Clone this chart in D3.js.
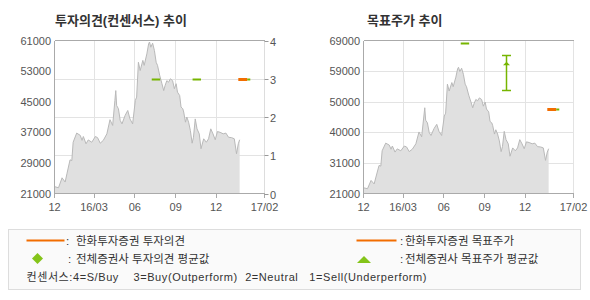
<!DOCTYPE html>
<html><head><meta charset="utf-8">
<script src="https://cdn.jsdelivr.net/npm/d3@7"></script>
<style>
html,body{margin:0;padding:0;background:#fff;}
svg{display:block;}
text{font-family:"Liberation Sans","Noto Sans CJK KR",sans-serif;}
</style></head>
<body><svg id="c" width="590" height="300"></svg>
<script>
// ---------- data ----------
const priceDates = ["2015-12-03","2015-12-12","2015-12-20","2015-12-27","2015-12-31","2016-01-07","2016-01-11","2016-01-14","2016-01-22","2016-01-30",
"2016-02-03","2016-02-06","2016-02-12","2016-02-17","2016-02-25","2016-03-04","2016-03-09","2016-03-15","2016-03-22","2016-03-30",
"2016-04-06","2016-04-12","2016-04-17","2016-04-19","2016-04-21","2016-04-25","2016-04-29","2016-05-03","2016-05-10","2016-05-16",
"2016-05-21","2016-05-27","2016-06-02","2016-06-05","2016-06-09","2016-06-13","2016-06-19","2016-06-22","2016-06-28","2016-07-02",
"2016-07-04","2016-07-07","2016-07-11","2016-07-15","2016-07-19","2016-07-22","2016-07-27","2016-08-01","2016-08-05","2016-08-08",
"2016-08-12","2016-08-16","2016-08-20","2016-08-25","2016-08-29","2016-09-02","2016-09-05","2016-09-10","2016-09-13","2016-09-17",
"2016-09-19","2016-09-23","2016-09-26","2016-09-30","2016-10-04","2016-10-08","2016-10-11","2016-10-15","2016-10-19","2016-10-24",
"2016-10-28","2016-11-03","2016-11-09","2016-11-14","2016-11-19","2016-11-24","2016-11-29","2016-12-04","2016-12-10","2016-12-17",
"2016-12-23","2016-12-29","2017-01-05","2017-01-11","2017-01-16","2017-01-20","2017-01-23"];
const priceValues = [22800,22500,25100,24000,26150,29800,29600,34400,36800,36200,
34900,35900,34000,35000,34400,35900,35600,34150,34900,36600,
40300,38800,45300,47900,44000,43150,40100,39200,41400,42700,
40500,39200,45300,46200,55300,53150,55800,54500,57500,60100,
60600,59250,60300,58400,55300,54500,51850,49700,47900,49200,
50500,50100,51000,50500,48400,49700,47500,46600,43600,43150,
42300,39650,41000,39650,37500,34150,35700,40500,37900,36600,
32700,35300,34400,35300,37900,36600,35050,37200,37000,36600,
36800,35700,35600,35300,31400,34000,35050];

const xTickDates = ["2015-12-03","2016-03-01","2016-06-01","2016-09-01","2016-12-01","2017-03-20"];
const xTickLabels = ["12","16/03","06","09","12","17/02"];

const leftPriceTicks = [21000,29000,37000,45000,53000,61000];
const opinionTicks = [0,1,2,3,4];
const rightPriceTicks = [21000,30600,40200,49800,59400,69000];
const rightPriceLabels = ["21000","31000","40000","50000","59000","69000"];

// consensus opinion average (green segments)
const consOpStart = ["2016-07-09","2016-10-09","2017-02-09"];
const consOpEnd   = ["2016-07-28","2016-10-28","2017-02-16"];
const consOpValue = [3,3,3];
// Hanwha opinion (orange)
const hwOpStart = ["2017-01-20"];
const hwOpEnd   = ["2017-02-09"];
const hwOpValue = [3];

// consensus target price average (green segments)
const consTpStart = ["2016-07-09","2017-02-09"];
const consTpEnd   = ["2016-07-28","2017-02-16"];
const consTpValue = [68300,47600];
// consensus target range bar
const tpRangeDate = ["2016-10-18"];
const tpRangeMin = [53500];
const tpRangeMax = [64500];
const tpRangeAvg = [61700];
// Hanwha target price (orange)
const hwTpStart = ["2017-01-20"];
const hwTpEnd   = ["2017-02-09"];
const hwTpValue = [47400];

const consensusNote = "컨센서스:4=S/Buy    3=Buy(Outperform)  2=Neutral   1=Sell(Underperform)";

// ---------- drawing ----------
const P = d3.timeParse("%Y-%m-%d");
const price = priceDates.map((d,i)=>({date:P(d), value:priceValues[i]}));
const ORANGE = "#f26d00", GREEN = "#76b500", GREEN2 = "#84c41a";
const svg = d3.select("#c");

function frame(g, x, y, yGridTicks){
  const [x0,x1] = x.range(); const [y1,y0] = y.range();
  g.selectAll(".vg").data(xTickDates.slice(1,-1)).join("line")
    .attr("x1",d=>x(P(d))).attr("x2",d=>x(P(d))).attr("y1",y0).attr("y2",y1)
    .attr("stroke","#e3e3e3").attr("shape-rendering","crispEdges");
  g.selectAll(".hg").data(yGridTicks).join("line")
    .attr("x1",x0).attr("x2",x1).attr("y1",d=>d).attr("y2",d=>d)
    .attr("stroke","#e3e3e3").attr("shape-rendering","crispEdges");
}

function axesLines(g, x, y, rightColor){
  const [x0,x1] = x.range(); const [y1,y0] = y.range();
  const L = (a,b,c,d,col)=>g.append("line").attr("x1",a).attr("y1",b).attr("x2",c).attr("y2",d)
    .attr("stroke",col).attr("shape-rendering","crispEdges");
  L(x1,y0,x1,y1,rightColor);
  L(x0,y0,x1,y0,"#aaaaaa");
  L(x0,y0,x0,y1,"#aaaaaa");
  L(x0,y1,x1,y1,"#aaaaaa");
  xTickDates.forEach((d,i)=>{
    const xx = x(P(d));
    L(xx,y1,xx,y1+4,"#aaaaaa");
    g.append("text").attr("x",xx).attr("y",y1+17).attr("text-anchor","middle")
      .attr("font-size",11).attr("fill","#555").text(xTickLabels[i]);
  });
}

function drawArea(g, x, y){
  const area = d3.area().x(d=>x(d.date)).y0(y.range()[0]).y1(d=>y(d.value));
  const line = d3.line().x(d=>x(d.date)).y(d=>y(d.value));
  g.append("path").datum(price).attr("d",area).attr("fill","#e0e0e0");
  g.append("path").datum(price).attr("d",line).attr("fill","none").attr("stroke","#b9b9b9").attr("stroke-width",1);
}

function segs(g, x, y, starts, ends, vals, color, w){
  g.append("g").selectAll("line").data(vals).join("line")
    .attr("x1",(d,i)=>x(P(starts[i]))).attr("x2",(d,i)=>x(P(ends[i])))
    .attr("y1",d=>Math.round(y(d))+0.5).attr("y2",d=>Math.round(y(d))+0.5)
    .attr("stroke",color).attr("stroke-width",w);
}

// ---- left chart ----
{
  const g = svg.append("g");
  const x = d3.scaleTime().domain([P(xTickDates[0]),P(xTickDates[5])]).range([54.5,264.5]);
  const y = d3.scaleLinear().domain([21000,61000]).range([193.5,40.5]);
  const yo = d3.scaleLinear().domain([0,4]).range([193.5,40.5]);
  g.append("text").attr("x",55).attr("y",25).attr("font-size",13).attr("font-weight","bold")
    .attr("fill","#333").text("투자의견(컨센서스) 추이");
  frame(g,x,y,opinionTicks.slice(1,-1).map(v=>Math.round(yo(v))+0.5));
  drawArea(g,x,y);
  axesLines(g,x,y,"#dddddd");
  leftPriceTicks.forEach(v=>{
    g.append("text").attr("x",51).attr("y",y(v)+4).attr("text-anchor","end")
      .attr("font-size",11).attr("fill","#555").text(v);
  });
  opinionTicks.forEach(v=>{
    const yy = Math.round(yo(v))+0.5;
    g.append("line").attr("x1",264.5).attr("x2",268.5).attr("y1",yy).attr("y2",yy).attr("stroke","#999");
    g.append("text").attr("x",270).attr("y",yy+4).attr("font-size",11).attr("fill","#555").text(v);
  });
  segs(g,x,yo,consOpStart,consOpEnd,consOpValue,GREEN,2);
  segs(g,x,yo,hwOpStart,hwOpEnd,hwOpValue,ORANGE,3);
}

// ---- right chart ----
{
  const g = svg.append("g");
  const x = d3.scaleTime().domain([P(xTickDates[0]),P(xTickDates[5])]).range([363.5,573.5]);
  const y = d3.scaleLinear().domain([21000,69000]).range([193.5,40.5]);
  g.append("text").attr("x",367).attr("y",25).attr("font-size",13).attr("font-weight","bold")
    .attr("fill","#333").text("목표주가 추이");
  frame(g,x,y,rightPriceTicks.slice(1,-1).map(v=>Math.round(y(v))+0.5));
  drawArea(g,x,y);
  axesLines(g,x,y,"#e3e3e3");
  rightPriceTicks.forEach((v,i)=>{
    g.append("text").attr("x",360).attr("y",y(v)+4).attr("text-anchor","end")
      .attr("font-size",11).attr("fill","#555").text(rightPriceLabels[i]);
  });
  segs(g,x,y,consTpStart,consTpEnd,consTpValue,GREEN,2);
  segs(g,x,y,hwTpStart,hwTpEnd,hwTpValue,ORANGE,3);
  tpRangeDate.forEach((d,i)=>{
    const xx = Math.round(x(P(d)))+0.5;
    const yt = Math.round(y(tpRangeMax[i]))+0.5, yb = Math.round(y(tpRangeMin[i]))+0.5;
    const rg = g.append("g").attr("stroke",GREEN).attr("stroke-width",1.5);
    rg.append("line").attr("x1",xx).attr("x2",xx).attr("y1",yt).attr("y2",yb);
    rg.append("line").attr("x1",xx-4.5).attr("x2",xx+4.5).attr("y1",yt).attr("y2",yt);
    rg.append("line").attr("x1",xx-4.5).attr("x2",xx+4.5).attr("y1",yb).attr("y2",yb);
    const ya = y(tpRangeAvg[i]);
    g.append("path").attr("d",`M${xx-3.5},${ya+1.5}L${xx},${ya-2}L${xx+3.5},${ya+1.5}Z`).attr("fill",GREEN);
  });
}

// ---- legend ----
{
  const g = svg.append("g");
  g.append("rect").attr("x",8.5).attr("y",229.5).attr("width",572).attr("height",60)
    .attr("fill","#fafafa").attr("stroke","#dddddd");
  const T = (xx,yy,t,fs)=>g.append("text").attr("x",xx).attr("y",yy).attr("font-size",fs||11.5)
    .attr("fill","#333").text(t);
  g.append("line").attr("x1",26.5).attr("x2",64.5).attr("y1",240.5).attr("y2",240.5).attr("stroke",ORANGE).attr("stroke-width",2);
  T(66,244.5,":"); T(76,244.5,"한화투자증권 투자의견");
  g.append("path").attr("d","M37.5,253L43,258.5L37.5,264L32,258.5Z").attr("fill",GREEN2);
  T(68,262.5,":"); T(76,262.5,"전체증권사 투자의견 평균값");
  g.append("line").attr("x1",356.5).attr("x2",396.5).attr("y1",240.5).attr("y2",240.5).attr("stroke",ORANGE).attr("stroke-width",2);
  T(400,244.5,":"); T(405,244.5,"한화투자증권 목표주가");
  g.append("path").attr("d","M357,263L364,256L371,263Z").attr("fill",GREEN2);
  T(400,262.5,":"); T(405,262.5,"전체증권사 목표주가 평균값");
  g.append("text").attr("x",26.5).attr("y",280.5).attr("font-size",11).attr("fill","#333")
    .attr("xml:space","preserve").style("white-space","pre")
    .attr("textLength",400).attr("lengthAdjust","spacing").text(consensusNote);
}
</script></body></html>
